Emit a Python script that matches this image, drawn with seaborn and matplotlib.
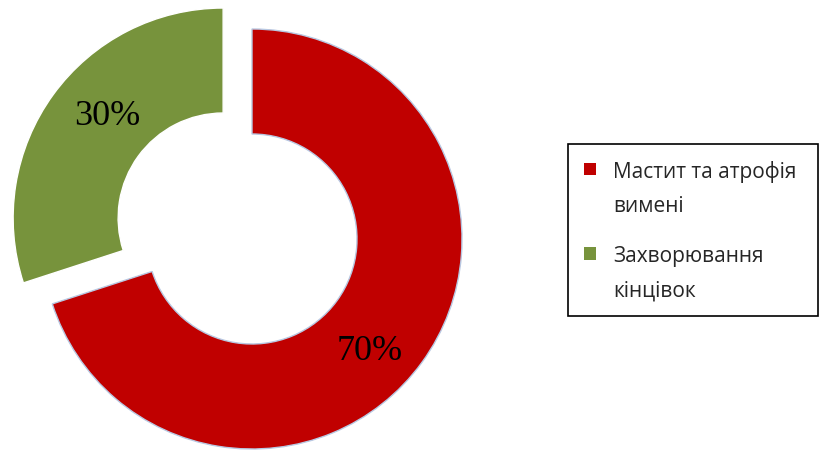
import matplotlib
matplotlib.use("Agg")
import matplotlib.pyplot as plt
from matplotlib.patches import Patch, Rectangle
from matplotlib.legend_handler import HandlerPatch
import seaborn as sns

# Data
categories = ["Мастит та атрофія\nвимені", "Захворювання\nкінцівок"]
shares = [70, 30]
pct_labels = ["70%", "30%"]
colors = ["#C00000", "#77933C"]

sns.set_theme(style="white")
plt.rcParams["font.family"] = ["Open Sans", "DejaVu Sans"]


class TopAlignedSquare(HandlerPatch):
    """Legend key drawn beside the first line of a two-line label."""

    def create_artists(self, legend, orig_handle, xdescent, ydescent,
                       width, height, fontsize, trans):
        shift = 0.95 * fontsize
        p = Rectangle((-xdescent, -ydescent + shift), width, height,
                      facecolor=orig_handle.get_facecolor(),
                      edgecolor="none", transform=trans)
        return [p]


fig = plt.figure(figsize=(8.19, 4.56), dpi=100)
ax = fig.add_axes([0, 0, 1, 1])

wedges, _ = ax.pie(
    shares,
    colors=colors,
    startangle=90,
    counterclock=False,
    radius=1.0,
    explode=[0, 0.17],
    wedgeprops=dict(width=0.5, linewidth=1.0),
)
wedges[0].set_edgecolor("#b8c8e2")
wedges[1].set_edgecolor("white")

ax.set_xlim(-1.2, 2.7)
ax.set_ylim(-1.0286, 1.1429)
ax.set_aspect("equal")
ax.axis("off")

# Percentage labels inside each segment
label_pos = [(0.56, -0.53), (-0.69, 0.59)]
for (x, y), txt in zip(label_pos, pct_labels):
    ax.text(x, y, txt, ha="center", va="center", fontsize=26,
            family=["Liberation Serif", "DejaVu Serif"], color="black")

handles = [Patch(facecolor=c, edgecolor="none") for c in colors]
leg = fig.legend(
    handles, categories,
    loc="upper left",
    bbox_to_anchor=(568 / 819, 1 - 145 / 456, 250 / 819, 0.0),
    mode="expand",
    frameon=True, fancybox=False, framealpha=1,
    edgecolor="black",
    prop={"size": 15},
    handlelength=0.55, handleheight=0.55, handletextpad=0.85,
    labelspacing=1.4, borderpad=0.78, borderaxespad=0,
    handler_map={Patch: TopAlignedSquare()},
)
leg.get_frame().set_linewidth(1.2)
for t in leg.get_texts():
    t.set_linespacing(1.8)

fig.savefig("out.png", dpi=100)
